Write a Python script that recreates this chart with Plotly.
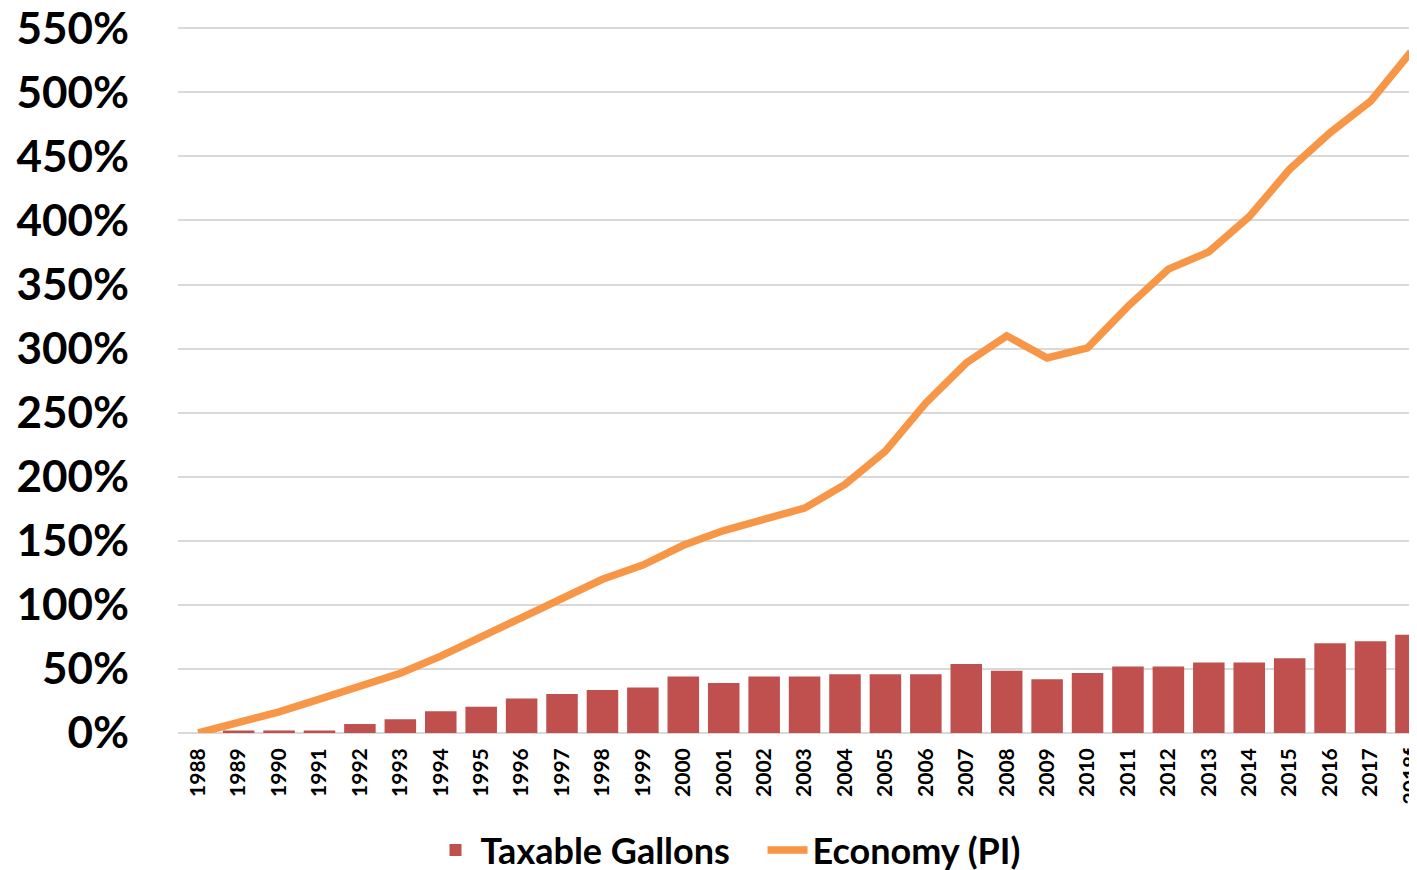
import plotly.graph_objects as go

years = ["1988", "1989", "1990", "1991", "1992", "1993", "1994", "1995", "1996", "1997",
         "1998", "1999", "2000", "2001", "2002", "2003", "2004", "2005", "2006", "2007",
         "2008", "2009", "2010", "2011", "2012", "2013", "2014", "2015", "2016", "2017", "2018f"]

taxable_gallons = [0, 2, 2, 2, 7, 10.7, 17, 20.5, 27, 30.5,
                   33.6, 35.6, 44, 39, 44, 44, 45.8, 45.8, 45.8, 53.9,
                   48.6, 42, 46.9, 51.9, 51.9, 55, 55, 58.4, 70, 71.6, 76.6]

economy_pi = [0, 8, 16.5, 26.4, 36, 46.6, 60, 75, 90, 105,
              120, 131, 146.5, 158, 166, 175.5, 194, 220, 257.6, 288.8,
              310, 292.7, 300.5, 333, 362, 375.5, 403, 440, 468.5, 493, 531.5]

y_ticks = [0, 50, 100, 150, 200, 250, 300, 350, 400, 450, 500, 550]
y_tick_text = [f"{v}%" for v in y_ticks]

FONT = "Lato, 'Open Sans', sans-serif"

# page body has an 8px margin, so the figure is sized to fill the rest
W, H = 1409, 862
Y_MAX = 551  # a hair above 550 so the top gridline is drawn

fig = go.Figure()
fig.add_trace(go.Bar(
    x=years, y=taxable_gallons, name="<b>Taxable Gallons</b>\u00a0\u00a0\u00a0",
    marker=dict(color="#C0504D", line=dict(width=0)),
))
fig.add_trace(go.Scatter(
    x=years, y=economy_pi, name="<b>Economy (PI)</b>", mode="lines",
    line=dict(color="#F79646", width=7.5),
))

fig.update_layout(
    width=W, height=H,
    margin=dict(l=170, r=0, t=18.7, b=137, autoexpand=False),
    plot_bgcolor="white", paper_bgcolor="white",
    bargap=0.22,
    font=dict(family=FONT, color="black"),
    showlegend=True,
    legend=dict(
        orientation="h", xref="container", yref="container",
        x=(728 - 8) / W, y=1 - (850 - 8) / H, xanchor="center", yanchor="middle",
        font=dict(size=36, family=FONT, color="black"),
        itemwidth=40, tracegroupgap=0,
    ),
    xaxis=dict(
        type="category", range=[-0.5, 30.15],
        tickangle=-90, tickfont=dict(size=21, family=FONT, color="black"),
        tickprefix="<b>", ticksuffix="</b>", ticklabeloverflow="allow",
        showgrid=False, showline=False, ticks="", ticklabelstandoff=10,
    ),
    yaxis=dict(
        range=[0, Y_MAX], tickvals=y_ticks, ticktext=[f"<b>{t}</b>" for t in y_tick_text],
        tickfont=dict(size=44, family=FONT, color="black"), ticklabeloverflow="allow",
        showgrid=True, gridcolor="#D9D9D9", gridwidth=2,
        zeroline=True, zerolinecolor="#D9D9D9", zerolinewidth=2,
        showline=False, ticks="", ticklabelstandoff=48,
    ),
)

fig.write_html("out.html")
